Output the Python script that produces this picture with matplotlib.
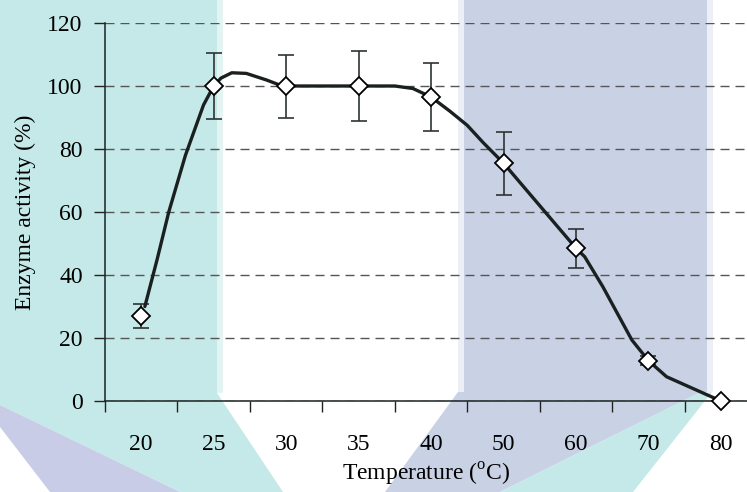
import matplotlib
matplotlib.use("Agg")
import matplotlib.pyplot as plt
from matplotlib.patches import Polygon

plt.rcParams['font.family'] = ['Liberation Serif', 'DejaVu Serif']
plt.rcParams['mathtext.fontset'] = 'custom'
plt.rcParams['mathtext.rm'] = 'Liberation Serif'

# measured activity
temps = ['20', '25', '30', '35', '40', '50', '60', '70', '80']
activity = [27, 100, 100, 100, 96.5, 75.5, 48.5, 12.8, 0]
errors = [3.7, 10.5, 10, 11, 10.8, 10, 6.2, 1.5, 0]

# smoothed trend line (position in category units, activity)
curve_pos = [0.05, 0.22, 0.38, 0.61, 0.86, 1.0, 1.1, 1.25, 1.45, 1.73, 1.9, 2.0,
             3.0, 3.5, 3.75, 4.0, 4.26, 4.5, 4.72, 5.0, 5.5, 6.0, 6.12, 6.37,
             6.77, 7.0, 7.25, 8.0]
curve_val = [30, 45, 60, 78, 94, 100, 102.5, 104.2, 104, 101.9, 100.4, 100,
             100, 100, 99.2, 96.5, 92, 87.5, 82, 75.5, 62, 48.5, 45.8, 36.3,
             19.4, 12.8, 7.7, 0]

W, H = 747, 492
fig = plt.figure(figsize=(W / 100, H / 100), dpi=100)

# background watermark shapes, in pixel coords
bg = fig.add_axes([0, 0, 1, 1], zorder=-1)
bg.set_xlim(0, W)
bg.set_ylim(H, 0)
bg.axis('off')
shapes = [
    ([(217, 0), (223, 0), (223, 393), (217, 393)], '#e3f4f3'),
    ([(0, 0), (217, 0), (217, 393), (283, 492), (180, 492), (0, 405)], '#c5e9e8'),
    ([(0, 405), (180, 492), (50, 492), (0, 427)], '#c8cce6'),
    ([(458, 0), (713, 0), (713, 392), (458, 392)], '#eceff6'),
    ([(464, 0), (707, 0), (707, 392), (697, 394), (500, 492), (385, 492),
      (458, 392), (464, 392)], '#c9d2e5'),
    ([(697, 394), (712, 392), (633, 492), (500, 492)], '#c5e9e8'),
]
for pts, col in shapes:
    bg.add_patch(Polygon(pts, closed=True, facecolor=col, edgecolor='none'))

ax = fig.add_axes([105 / W, (H - 401) / H, (W - 105) / W, (401 - 23) / H])
ax.set_facecolor('none')

x = list(range(len(temps)))
ax.plot(curve_pos, curve_val, color='#1a2020', lw=2.4, solid_joinstyle='round',
        solid_capstyle='round', zorder=3)
ax.errorbar(x, activity, yerr=errors, fmt='none', ecolor='#2e3333',
            elinewidth=1.2, capsize=5.5, capthick=1.2, zorder=2)
ax.plot(x, activity, ls='none', marker='D', markersize=9.5,
        markerfacecolor='white', markeredgecolor='black', markeredgewidth=1.3,
        zorder=4, clip_on=False)

ax.set_xlim(-0.5, 8.36)
ax.set_ylim(0, 120)
ax.set_yticks(range(0, 121, 20))
ax.set_xticks(x)
ax.set_xticklabels(temps)
ax.set_xticks([i - 0.5 for i in range(len(temps))], minor=True)
ax.tick_params(axis='x', which='major', length=0, pad=24, labelsize=17)
ax.tick_params(axis='x', which='minor', length=8, width=1, color='#222')
ax.tick_params(axis='y', length=8, width=1, pad=8, labelsize=17, color='#222')

ax.grid(axis='y', color='#555555', lw=1, linestyle=(0, (6.5, 4.3)))
ax.set_axisbelow(True)
for s in ['top', 'right']:
    ax.spines[s].set_visible(False)
for s in ['left', 'bottom']:
    ax.spines[s].set_color('#1a2222')
    ax.spines[s].set_linewidth(1.1)

ax.set_ylabel('Enzyme activity (%)', fontsize=17, labelpad=8)
ax.set_xlabel('Temperature ($^{\\mathrm{o}}$C)', fontsize=17, labelpad=4)

fig.savefig('out.png', dpi=100)
